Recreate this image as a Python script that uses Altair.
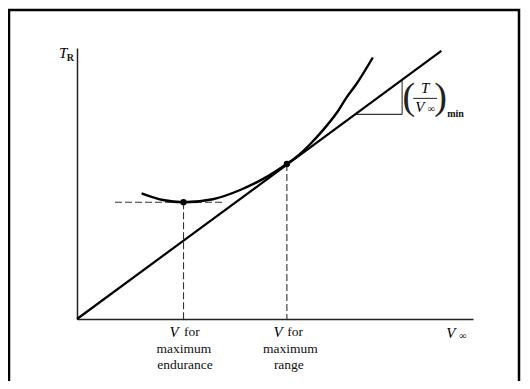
import altair as alt
import pandas as pd

# ---- data (arbitrary schematic units, 0..100 on both axes) ----
curve_v = [16.3, 21.7, 26.9, 34.3, 41.2, 47.0, 53.0, 55.8, 58.8, 62.0, 65.6, 68.0, 70.6, 74.7]
curve_t = [46.4, 43.9, 43.1, 44.2, 47.6, 51.7, 57.3, 60.3, 64.4, 69.5, 76.1, 81.6, 86.8, 96.5]

tangent_v = [0.0, 92.0]
tangent_t = [0.0, 98.9]

dot_v = [26.9, 53.0]
dot_t = [43.1, 57.2]

# dashed guide segments: (v, t, v2, t2)
guide_v = [9.6, 26.9, 53.0]
guide_t = [43.1, 43.1, 57.2]
guide_v2 = [37.4, 26.9, 53.0]
guide_t2 = [43.1, 0.0, 0.0]

# slope triangle segments
tri_v = [70.2, 82.1, 84.9]
tri_t = [75.5, 75.5, 81.4]
tri_v2 = [82.1, 82.1, 90.9]
tri_t2 = [75.5, 88.3, 81.4]

# text labels
italic_text = ["T", "V", "V", "V", "T", "V"]
italic_v = [-3.5, 94.4, 24.5, 50.8, 87.9, 86.6]
italic_t = [98.2, -5.2, -4.8, -4.8, 85.2, 78.2]

roman_text = ["for", "maximum", "endurance", "for", "maximum", "range"]
roman_v = [29.0, 27.0, 27.3, 55.1, 53.9, 53.5]
roman_t = [-4.8, -11.1, -17.0, -4.8, -11.1, -17.0]

sub_text = ["R", "\u221e", "\u221e", "min"]
sub_v = [-1.7, 97.4, 89.5, 95.6]
sub_t = [96.4, -6.4, 77.4, 75.8]

paren_text = ["(", ")"]
paren_v = [83.8, 91.8]
paren_t = [81.4, 81.4]

# ---- tables ----
curve = pd.DataFrame({"v": curve_v, "t": curve_t})
tangent = pd.DataFrame({"v": tangent_v, "t": tangent_t})
dots = pd.DataFrame({"v": dot_v, "t": dot_t})
guides = pd.DataFrame({"v": guide_v, "t": guide_t, "v2": guide_v2, "t2": guide_t2})
tri = pd.DataFrame({"v": tri_v, "t": tri_t, "v2": tri_v2, "t2": tri_t2})
ital = pd.DataFrame({"txt": italic_text, "v": italic_v, "t": italic_t})
roman = pd.DataFrame({"txt": roman_text, "v": roman_v, "t": roman_t})
subs = pd.DataFrame({"txt": sub_text, "v": sub_v, "t": sub_t})
parens = pd.DataFrame({"txt": paren_text, "v": paren_v, "t": paren_t})

xs = alt.Scale(domain=[0, 100], nice=False, zero=False)
ys = alt.Scale(domain=[0, 100], nice=False, zero=False)
ax = alt.Axis(domain=True, ticks=False, labels=False, grid=False, title=None,
              domainColor="#222222", domainWidth=1.5)

X = alt.X("v:Q", scale=xs, axis=ax)
Y = alt.Y("t:Q", scale=ys, axis=ax)

SERIF = "Liberation Serif, DejaVu Serif, Times New Roman, serif"

border = alt.Chart(pd.DataFrame({"a": [0]})).mark_rect(
    fill=None, stroke="black", strokeWidth=2.5
).encode(x=alt.value(-68), x2=alt.value(442), y=alt.value(-38), y2=alt.value(360))

curve_layer = alt.Chart(curve).mark_line(
    color="black", strokeWidth=2.4, interpolate="monotone"
).encode(x=X, y=Y)

tangent_layer = alt.Chart(tangent).mark_line(color="black", strokeWidth=2.2).encode(x=X, y=Y)

guide_layer = alt.Chart(guides).mark_rule(
    color="#333333", strokeWidth=1.1, strokeDash=[7, 3]
).encode(x=X, y=Y, x2="v2:Q", y2="t2:Q")

tri_layer = alt.Chart(tri).mark_rule(color="#333333", strokeWidth=1.1).encode(
    x=X, y=Y, x2="v2:Q", y2="t2:Q")

dot_layer = alt.Chart(dots).mark_point(
    filled=True, color="black", size=40, opacity=1
).encode(x=X, y=Y)

ital_layer = alt.Chart(ital).mark_text(
    font=SERIF, fontStyle="italic", fontSize=15, color="black", baseline="middle", align="center"
).encode(x=X, y=Y, text="txt:N")

roman_layer = alt.Chart(roman).mark_text(
    font=SERIF, fontSize=13.5, color="#111111", baseline="middle", align="center"
).encode(x=X, y=Y, text="txt:N")

sub_layer = alt.Chart(subs).mark_text(
    font=SERIF, fontSize=10, fontWeight="bold", color="#111111", baseline="middle", align="center"
).encode(x=X, y=Y, text="txt:N")

paren_layer = alt.Chart(parens).mark_text(
    font=SERIF, fontSize=38, color="#222222", baseline="middle", align="center"
).encode(x=X, y=Y, text="txt:N")

chart = alt.layer(
    border, guide_layer, tri_layer, tangent_layer, curve_layer, dot_layer,
    ital_layer, roman_layer, sub_layer, paren_layer
).properties(
    width=396, height=271,
    autosize=alt.AutoSizeParams(type="none"),
    padding={"left": 69, "top": 40, "right": 49, "bottom": 62},
    background="white",
).configure_view(stroke=None)

chart.save("out.html", embed_options={"renderer": "svg", "actions": False})
